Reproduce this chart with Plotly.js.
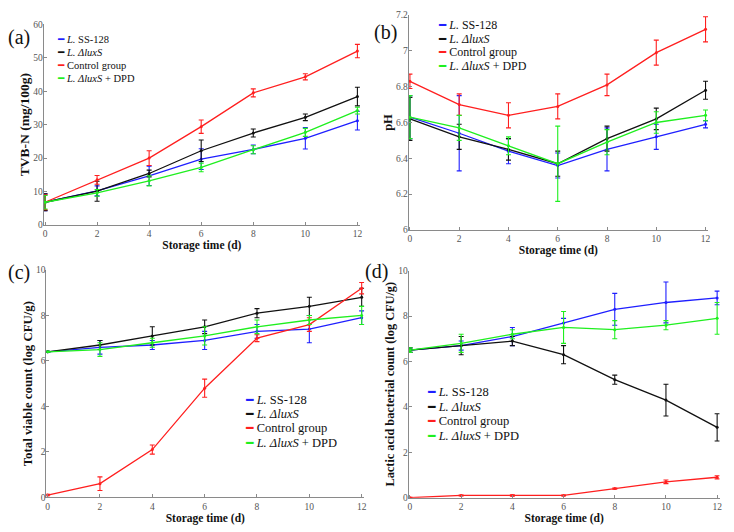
<!DOCTYPE html>
<html>
<head>
<meta charset="utf-8">
<script src="https://cdn.plot.ly/plotly-3.0.1.min.js"></script>
<style>html,body{margin:0;padding:0;background:#fff}#chart{width:734px;height:532px}</style>
</head>
<body>
<div id="chart"></div>
<script>
// ---- data ----
const days = [0, 2, 4, 6, 8, 10, 12];
const seriesNames = ['<i>L.</i> SS-128', '<i>L. ΔluxS</i>', 'Control group', '<i>L. ΔluxS</i> + DPD'];
const seriesColors = ['#1f1fff', '#111111', '#ff1f1f', '#1fef1f'];

// (a) TVB-N (mg/100g)
const tvbSS   = [6.8, 10.2, 14.7, 19.7, 22.6, 25.9, 31.2];
const tvbSSErr= [2.5, 1.5, 2.9, 3.1, 1.3, 3.2, 2.8];
const tvbLux  = [6.8, 10.1, 15.4, 22.2, 27.5, 32.2, 38.4];
const tvbLuxErr=[2.5, 3.0, 1.0, 3.2, 1.2, 1.0, 2.8];
const tvbCtrl = [6.8, 13.5, 20.0, 29.4, 39.5, 44.3, 52.0];
const tvbCtrlErr=[2.2, 1.3, 2.2, 2.0, 1.2, 0.9, 2.0];
const tvbDPD  = [6.8, 9.6, 13.2, 17.2, 22.5, 27.7, 34.2];
const tvbDPDErr=[2.0, 1.0, 1.5, 1.3, 1.2, 1.2, 1.0];

// (b) pH
const phSS    = [6.63, 6.54, 6.44, 6.36, 6.45, 6.52, 6.59];
const phSSErr = [0.12, 0.21, 0.07, 0.07, 0.12, 0.07, 0.02];
const phLux   = [6.62, 6.52, 6.45, 6.37, 6.51, 6.62, 6.78];
const phLuxErr= [0.12, 0.07, 0.06, 0.07, 0.07, 0.06, 0.05];
const phCtrl  = [6.83, 6.70, 6.64, 6.69, 6.81, 6.99, 7.12];
const phCtrlErr=[0.04, 0.06, 0.07, 0.07, 0.06, 0.07, 0.07];
const phDPD   = [6.63, 6.57, 6.47, 6.37, 6.49, 6.60, 6.64];
const phDPDErr= [0.12, 0.07, 0.05, 0.21, 0.07, 0.06, 0.03];

// (c) Total viable count (log CFU/g)
const tvcSS   = [6.4, 6.6, 6.7, 6.9, 7.3, 7.4, 7.9];
const tvcSSErr= [0.02, 0.3, 0.2, 0.4, 0.3, 0.6, 0.3];
const tvcLux  = [6.4, 6.7, 7.1, 7.5, 8.1, 8.4, 8.8];
const tvcLuxErr=[0.02, 0.2, 0.4, 0.3, 0.2, 0.4, 0.4];
const tvcCtrl = [0.1, 0.6, 2.1, 4.8, 7.0, 7.6, 9.2];
const tvcCtrlErr=[0.03, 0.3, 0.2, 0.4, 0.15, 0.3, 0.25];
const tvcDPD  = [6.4, 6.5, 6.8, 7.1, 7.5, 7.8, 8.0];
const tvcDPDErr=[0.02, 0.3, 0.2, 0.4, 0.3, 0.2, 0.4];

// (d) Lactic acid bacterial count (log CFU/g)
const labSS   = [6.5, 6.7, 7.1, 7.7, 8.3, 8.6, 8.8];
const labSSErr= [0.1, 0.2, 0.4, 0.2, 0.7, 0.9, 0.3];
const labLux  = [6.5, 6.7, 6.9, 6.3, 5.2, 4.3, 3.1];
const labLuxErr=[0.1, 0.4, 0.2, 0.4, 0.2, 0.7, 0.6];
const labCtrl = [0.0, 0.1, 0.1, 0.1, 0.4, 0.7, 0.9];
const labCtrlErr=[0.02, 0.02, 0.03, 0.02, 0.03, 0.08, 0.07];
const labDPD  = [6.5, 6.8, 7.2, 7.5, 7.4, 7.6, 7.9];
const labDPDErr=[0.1, 0.4, 0.2, 0.7, 0.4, 0.2, 0.7];

const panels = [
  {ax: '', series: [[tvbSS, tvbSSErr], [tvbLux, tvbLuxErr], [tvbCtrl, tvbCtrlErr], [tvbDPD, tvbDPDErr]]},
  {ax: '2', series: [[phSS, phSSErr], [phLux, phLuxErr], [phCtrl, phCtrlErr], [phDPD, phDPDErr]]},
  {ax: '3', series: [[tvcSS, tvcSSErr], [tvcLux, tvcLuxErr], [tvcCtrl, tvcCtrlErr], [tvcDPD, tvcDPDErr]]},
  {ax: '4', series: [[labSS, labSSErr], [labLux, labLuxErr], [labCtrl, labCtrlErr], [labDPD, labDPDErr]]}
];

const W = 734, H = 532;
const px = v => v / W, py = v => 1 - v / H;

const traces = [];
panels.forEach(p => {
  p.series.forEach((s, i) => {
    traces.push({
      type: 'scatter', mode: 'lines+markers',
      x: days, y: s[0], name: seriesNames[i], showlegend: false,
      xaxis: 'x' + p.ax, yaxis: 'y' + p.ax,
      line: {color: seriesColors[i], width: 1.3},
      marker: {color: seriesColors[i], size: 3},
      error_y: {type: 'data', array: s[1], visible: true, color: seriesColors[i], thickness: 1.1, width: 2.5}
    });
  });
});

const serif = 'Liberation Serif, Times New Roman, serif';
function xAxis(d0, d1, anchor) {
  return {domain: [px(d0), px(d1)], anchor: anchor, range: [-0.05, 12.1], dtick: 2, tick0: 0,
    showgrid: false, zeroline: false, showline: true, linecolor: '#8a8a8a', linewidth: 1,
    ticks: 'inside', ticklen: 3, tickcolor: '#8a8a8a',
    tickfont: {family: serif, size: 9.5, color: '#555'},
    title: {text: '<b>Storage time (d)</b>', font: {family: serif, size: 11.5, color: '#111'}, standoff: 2}};
}
function yAxis(top, bottom, anchor, range, dtick, title, tsize) {
  return {domain: [py(bottom), py(top)], anchor: anchor, range: range, dtick: dtick, tick0: range[0],
    showgrid: false, zeroline: false, showline: true, linecolor: '#8a8a8a', linewidth: 1,
    ticks: 'inside', ticklen: 3, tickcolor: '#8a8a8a',
    tickfont: {family: serif, size: 9.5, color: '#555'}, ticklabelstandoff: -2,
    title: {text: '<b>' + title + '</b>', font: {family: serif, size: tsize, color: '#111'}, standoff: 0}};
}

const layout = {
  width: W, height: H, margin: {l: 0, r: 0, t: 0, b: 0},
  paper_bgcolor: '#fff', plot_bgcolor: 'rgba(0,0,0,0)', showlegend: false,
  xaxis:  xAxis(43.7, 360, 'y'),
  yaxis:  yAxis(24.3, 225, 'x', [0, 60], 10, 'TVB-N (mg/100g)', 13.5),
  xaxis2: xAxis(408.7, 708, 'y2'),
  yaxis2: yAxis(15, 230, 'x2', [6, 7.2], 0.2, 'pH', 12.5),
  xaxis3: xAxis(46.3, 364.3, 'y3'),
  yaxis3: yAxis(270, 497.3, 'x3', [0, 10], 2, 'Total viable count (log CFU/g)', 12.8),
  xaxis4: xAxis(408.7, 719.7, 'y4'),
  yaxis4: yAxis(270.7, 497.7, 'x4', [0, 10], 2, 'Lactic acid bacterial count (log CFU/g)', 12.3),
  annotations: []
};

// panel letters
[['(a)', 19, 38], ['(b)', 385, 33], ['(c)', 19, 272], ['(d)', 376, 271]].forEach(l => {
  layout.annotations.push({text: l[0], xref: 'paper', yref: 'paper', x: px(l[1]), y: py(l[2]),
    xanchor: 'center', yanchor: 'middle', showarrow: false, font: {family: serif, size: 20, color: '#111'}});
});

// legends (one per panel)
const legendSpecs = [
  {x: 55.7, rows: [39.3, 52.3, 65, 77.7], size: 10.5},
  {x: 436.7, rows: [25, 38.7, 52.3, 66.3], size: 12},
  {x: 244, rows: [399.3, 413.3, 427.7, 442.3], size: 12.5},
  {x: 426, rows: [391, 406, 420.7, 435.3], size: 12.5}
];
legendSpecs.forEach(ls => {
  seriesNames.forEach((n, i) => {
    layout.annotations.push({
      text: '<span style="color:' + seriesColors[i] + ';font-family:DejaVu Sans">━</span> ' + n,
      xref: 'paper', yref: 'paper', x: px(ls.x), y: py(ls.rows[i]), xanchor: 'left', yanchor: 'middle',
      showarrow: false, borderpad: 0, font: {family: serif, size: ls.size, color: '#111'}
    });
  });
});

Plotly.newPlot('chart', traces, layout, {displayModeBar: false, staticPlot: true});
</script>
</body>
</html>
